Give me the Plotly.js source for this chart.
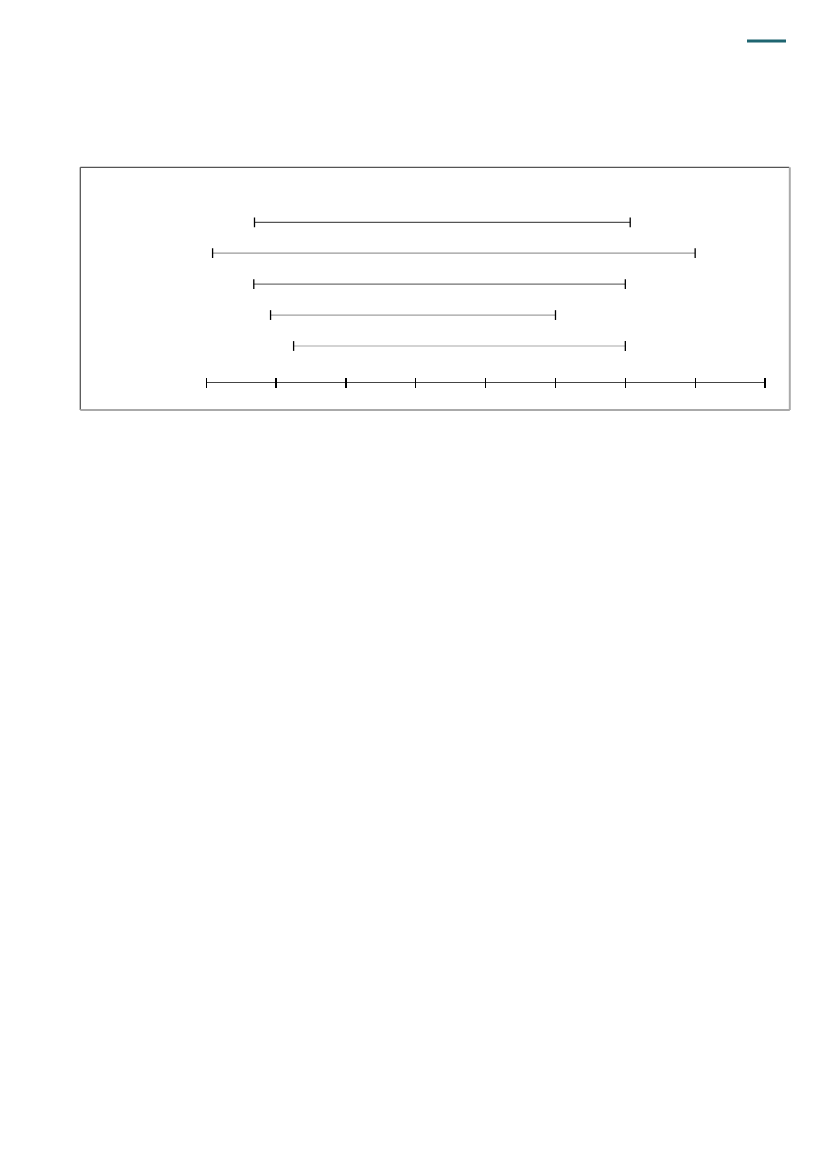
<!DOCTYPE html>
<html>
<head>
<meta charset="utf-8">
<script src="https://cdn.plot.ly/plotly-3.0.1.min.js"></script>
<style>
  html, body { margin: 0; padding: 0; background: #fff; }
  #chart { width: 827px; height: 1169px; }
</style>
</head>
<body>
<div id="chart"></div>
<script>
// range rows, top to bottom
const rowIndex = [0, 1, 2, 3, 4];
const lowVals = [6.9, 0.9, 6.8, 9.2, 12.5];
const highVals = [60.7, 70, 60, 50, 60];
const axisTicks = [0, 10, 20, 30, 40, 50, 60, 70, 80];

const rowColors = ['#555555', '#9a9a9a', '#707070', '#a0a0a0', '#a8a8a8'];

function createRange(i) {
  return {
    x: [lowVals[i], highVals[i]],
    y: [rowIndex[i], rowIndex[i]],
    mode: 'lines+markers',
    type: 'scatter',
    hoverinfo: 'skip',
    showlegend: false,
    line: {color: rowColors[i], width: 1.2},
    marker: {symbol: 'line-ns', size: 7, line: {color: '#000', width: 1.3}},
  };
}

const data = rowIndex.map((r, i) => createRange(i));

const axisY = 381.5;  // px from top of page
const axisBase = {
  domain: [206.3 / 827, 765 / 827],
  range: [0, 80],
  tickvals: axisTicks,
  anchor: 'free',
  showticklabels: false,
  showgrid: false,
  zeroline: false,
  fixedrange: true,
};

const layout = {
  width: 827,
  height: 1169,
  margin: {l: 0, r: 0, t: 0, b: 0},
  paper_bgcolor: '#fff',
  plot_bgcolor: 'rgba(0,0,0,0)',
  // axis line only
  xaxis: Object.assign({}, axisBase, {
    position: (1169 - axisY) / 1169,
    showline: true,
    linecolor: '#444',
    linewidth: 1.3,
    ticks: '',
  }),
  // crossing ticks: outside ticks drawn from 5px above the line
  xaxis2: Object.assign({}, axisBase, {
    overlaying: 'x',
    matches: 'x',
    position: (1169 - axisY + 5) / 1169,
    showline: false,
    ticks: 'outside',
    ticklen: 10,
    tickwidth: 1.3,
    tickcolor: '#000',
  }),
  yaxis: {
    domain: [0, 1],
    range: [30.61, -7.187],
    visible: false,
    fixedrange: true,
  },
  shapes: [
    // frame: dark top/left, lighter bottom/right
    {type: 'line', xref: 'paper', yref: 'paper', x0: 80.3 / 827, x1: 789.3 / 827, y0: 1 - 167.3 / 1169, y1: 1 - 167.3 / 1169, line: {color: '#555', width: 1.3}},
    {type: 'line', xref: 'paper', yref: 'paper', x0: 80.3 / 827, x1: 80.3 / 827, y0: 1 - 167.3 / 1169, y1: 1 - 410 / 1169, line: {color: '#555', width: 1.3}},
    {type: 'line', xref: 'paper', yref: 'paper', x0: 80.3 / 827, x1: 789.8 / 827, y0: 1 - 410 / 1169, y1: 1 - 410 / 1169, line: {color: '#aaa', width: 2}},
    {type: 'line', xref: 'paper', yref: 'paper', x0: 789.8 / 827, x1: 789.8 / 827, y0: 1 - 167.3 / 1169, y1: 1 - 410 / 1169, line: {color: '#aaa', width: 2}},
    // header accent
    {type: 'line', xref: 'paper', yref: 'paper', x0: 747 / 827, x1: 786 / 827, y0: 1 - 41 / 1169, y1: 1 - 41 / 1169, line: {color: '#1e6570', width: 3.2}},
  ],
};

// empty trace so xaxis2 gets drawn
data.push({x: [], y: [], xaxis: 'x2', yaxis: 'y', type: 'scatter', showlegend: false, hoverinfo: 'skip'});

Plotly.newPlot('chart', data, layout, {displayModeBar: false, staticPlot: true});
</script>
</body>
</html>
